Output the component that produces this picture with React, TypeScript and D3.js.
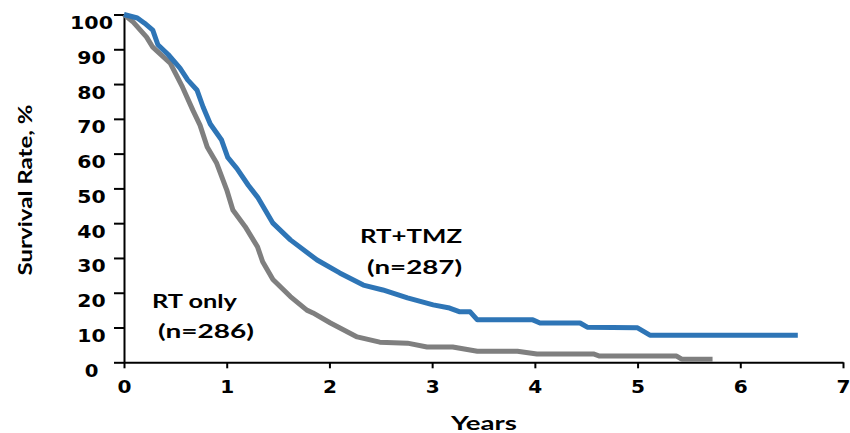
import React, { useRef, useEffect } from 'react';
import * as d3 from 'd3';

// survival curves (years, %)
const tmzYears = [0, 0.13, 0.2, 0.28, 0.33, 0.43, 0.545, 0.62, 0.71, 0.77, 0.84, 0.95, 1.01, 1.1, 1.21, 1.3, 1.45, 1.62, 1.88, 2.1, 2.33, 2.52, 2.76, 3.01, 3.17, 3.27, 3.37, 3.44, 3.98, 4.05, 4.44, 4.51, 5.0, 5.12, 6.56];
const tmzSurvival = [100, 99, 97.5, 95.5, 91.3, 88.5, 84.6, 81.2, 78.3, 73.4, 68.5, 63.9, 58.9, 55.7, 50.9, 47.5, 40, 35.2, 29.4, 25.7, 22.2, 20.8, 18.5, 16.5, 15.6, 14.5, 14.5, 12.2, 12.2, 11.3, 11.3, 10.1, 9.9, 7.8, 7.8];

const rtYears = [0, 0.09, 0.22, 0.28, 0.45, 0.57, 0.67, 0.74, 0.81, 0.9, 1.0, 1.06, 1.18, 1.3, 1.35, 1.45, 1.62, 1.78, 1.84, 2.01, 2.27, 2.49, 2.76, 2.95, 3.2, 3.44, 3.83, 4.02, 4.57, 4.63, 5.38, 5.43, 5.73];
const rtSurvival = [100, 97.8, 93.5, 90.6, 86, 79.1, 72.5, 68.2, 61.9, 57.4, 49.6, 43.8, 39, 33.2, 28.9, 23.8, 18.9, 15, 14.2, 11.3, 7.3, 5.8, 5.5, 4.4, 4.4, 3.2, 3.2, 2.4, 2.4, 1.8, 1.8, 0.9, 0.9];

const xTicks = [0, 1, 2, 3, 4, 5, 6, 7];
const yTicks = [0, 10, 20, 30, 40, 50, 60, 70, 80, 90, 100];

const width = 850;
const height = 433;
const margin = { left: 124, top: 14.5, right: 7, bottom: 70.7 };

const labelFont = '"DejaVu Sans", Verdana, sans-serif';
const titleFont = 'Lato, "Open Sans", sans-serif';

const App = () => {
  const svgRef = useRef<SVGSVGElement>(null);

  useEffect(() => {
    if (!svgRef.current) return;
    const svg = d3.select(svgRef.current);
    svg.selectAll('*').remove();

    const x = d3.scaleLinear().domain([0, 7]).range([margin.left, width - margin.right]);
    const y = d3.scaleLinear().domain([0, 100]).range([height - margin.bottom, margin.top]);

    // y axis
    const gy = svg.append('g')
      .attr('transform', `translate(${margin.left},0)`)
      .call(d3.axisLeft(y).tickValues(yTicks).tickSize(10).tickSizeOuter(0));
    gy.select('.domain').attr('stroke', '#000').attr('stroke-width', 2);
    gy.selectAll('.tick line').attr('stroke', '#000').attr('stroke-width', 2);
    gy.selectAll<SVGTextElement, number>('.tick text')
      .attr('x', -32.5)
      .attr('dy', 0)
      .attr('y', 14)
      .attr('text-anchor', 'middle')
      .attr('font-family', labelFont)
      .attr('font-weight', 'bold')
      .attr('font-size', 18)
      .attr('fill', '#000')
      .attr('textLength', d => String(d).length * 14.7 - 1)
      .attr('lengthAdjust', 'spacingAndGlyphs');

    // x axis
    const gx = svg.append('g')
      .attr('transform', `translate(0,${y(0)})`)
      .call(d3.axisBottom(x).tickValues(xTicks).tickFormat(d3.format('d')).tickSize(6).tickSizeOuter(0));
    gx.select('.domain').attr('stroke', '#000').attr('stroke-width', 2);
    gx.selectAll('.tick line').attr('stroke', '#000').attr('stroke-width', 2);
    gx.selectAll<SVGTextElement, number>('.tick text')
      .attr('y', 31)
      .attr('dy', 0)
      .attr('font-family', labelFont)
      .attr('font-weight', 'bold')
      .attr('font-size', 18)
      .attr('fill', '#000')
      .attr('textLength', 14)
      .attr('lengthAdjust', 'spacingAndGlyphs');

    const line = d3.line<[number, number]>()
      .x(d => x(d[0]))
      .y(d => y(d[1]));

    const rtData = rtYears.map((t, i) => [t, rtSurvival[i]] as [number, number]);
    const tmzData = tmzYears.map((t, i) => [t, tmzSurvival[i]] as [number, number]);

    svg.append('path')
      .datum(rtData)
      .attr('fill', 'none')
      .attr('stroke', '#7f7f7f')
      .attr('stroke-width', 5)
      .attr('stroke-linejoin', 'round')
      .attr('d', line);

    svg.append('path')
      .datum(tmzData)
      .attr('fill', 'none')
      .attr('stroke', '#2e75b6')
      .attr('stroke-width', 5)
      .attr('stroke-linejoin', 'round')
      .attr('d', line);

    // annotations
    const notes = [
      { text: 'RT+TMZ', x: 360, y: 243, len: 102 },
      { text: '(n=287)', x: 367, y: 274, len: 95 },
      { text: 'RT only', x: 152, y: 308, len: 85 },
      { text: '(n=286)', x: 158, y: 338, len: 96 },
    ];
    svg.selectAll('text.note')
      .data(notes)
      .join('text')
      .attr('class', 'note')
      .attr('x', d => d.x)
      .attr('y', d => d.y)
      .attr('font-family', titleFont)
      .attr('font-weight', 'bold')
      .attr('font-size', 19)
      .attr('fill', '#000')
      .attr('textLength', d => d.len)
      .attr('lengthAdjust', 'spacingAndGlyphs')
      .text(d => d.text);

    svg.append('text')
      .attr('x', 484)
      .attr('y', 430)
      .attr('text-anchor', 'middle')
      .attr('font-family', titleFont)
      .attr('font-weight', 'bold')
      .attr('font-size', 19)
      .attr('textLength', 66)
      .attr('lengthAdjust', 'spacingAndGlyphs')
      .text('Years');

    svg.append('text')
      .attr('transform', 'translate(32,190) rotate(-90)')
      .attr('text-anchor', 'middle')
      .attr('font-family', titleFont)
      .attr('font-weight', 'bold')
      .attr('font-size', 19)
      .attr('textLength', 171)
      .attr('lengthAdjust', 'spacingAndGlyphs')
      .text('Survival Rate, %');
  }, []);

  return (
    <svg
      ref={svgRef}
      width={width}
      height={height}
      style={{ position: 'absolute', left: 0, top: 0, background: '#fff' }}
    />
  );
};

export default App;
